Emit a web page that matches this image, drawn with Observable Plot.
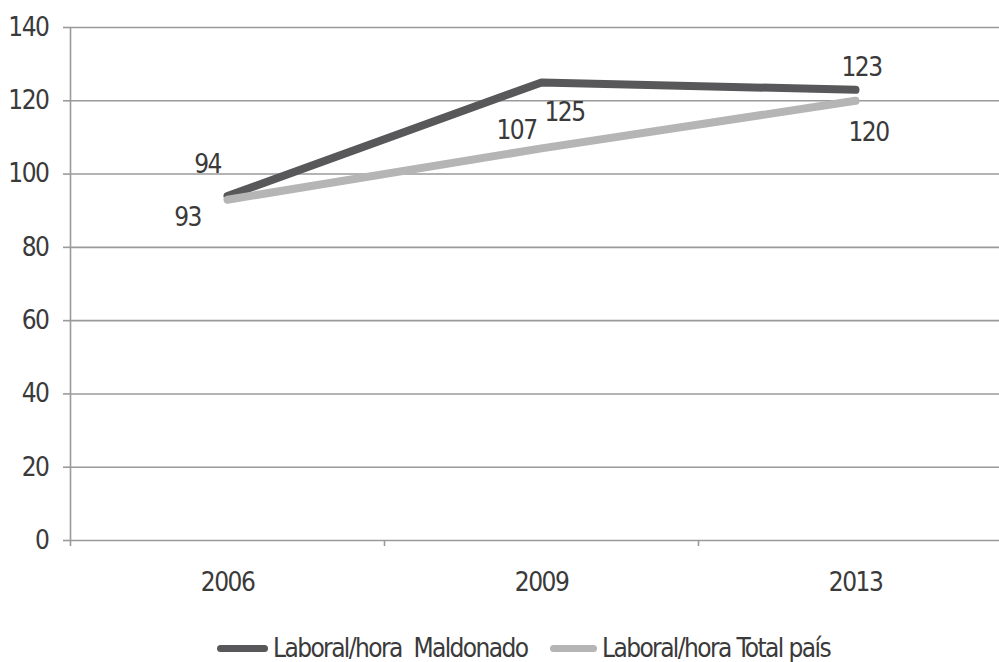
<!DOCTYPE html>
<html><head><meta charset="utf-8">
<script src="https://cdn.jsdelivr.net/npm/d3@7"></script>
<script src="https://cdn.jsdelivr.net/npm/@observablehq/plot@0.6"></script>
<style>
html,body{margin:0;padding:0;background:#fff;overflow:hidden;width:999px;height:662px}
#chart{position:relative;width:999px;height:662px;overflow:hidden}
#chart svg{display:block;max-width:none !important;width:1012px !important;height:610px !important}
#chart svg text{letter-spacing:-1.5px}
.legend{position:absolute;left:0;top:633px;width:999px;height:30px;
  font-family:"Liberation Sans Narrow","DejaVu Sans Condensed","DejaVu Sans",sans-serif;font-stretch:condensed;
  font-size:26px;color:#3a3a3a;white-space:pre;line-height:30px;letter-spacing:-1.6px}
.legend .sw{display:inline-block;height:7px;border-radius:4px;margin-right:5px}
.legend .item{position:absolute;top:0;display:flex;align-items:center;height:30px}
</style></head><body>
<div id="chart"></div>
<script>
const years = ["2006", "2009", "2013"];
const maldonado = [94, 125, 123];
const totalPais = [93, 107, 120];
const seriesNames = ["Laboral/hora  Maldonado", "Laboral/hora Total país"];
const seriesColors = ["#58585a", "#b5b5b5"];
const yTicks = [0, 20, 40, 60, 80, 100, 120, 140];

const FONT = '"Liberation Sans Narrow","DejaVu Sans Condensed","DejaVu Sans",sans-serif';
const TXT = "#3a3a3a";
const GRID = "#9a9a9a";

const idx = years.map((_, i) => i);
const xOf = i => i + 0.5;

const lineMark = (vals, color) => Plot.line(idx, {
  x: xOf, y: i => vals[i], stroke: color, strokeWidth: 8,
  strokeLinecap: "round", strokeLinejoin: "round"
});
const label = (vals, i, dx, dy) => Plot.text([i], {
  x: xOf, y: j => vals[j], text: j => String(vals[j]), dx, dy,
  fill: TXT, fontSize: 26, fontFamily: FONT
});

const chart = Plot.plot({
  width: 1012, height: 610,
  marginLeft: 70, marginRight: 0, marginTop: 27, marginBottom: 70,
  style: {fontFamily: FONT, fontSize: "26px", background: "#fff", fontStretch: "condensed"},
  x: {type: "linear", domain: [0, 3]},
  y: {domain: [0, 140]},
  marks: [
    Plot.gridY({ticks: yTicks, stroke: GRID, strokeOpacity: 1, strokeWidth: 1.6}),
    Plot.ruleX([0], {stroke: GRID, strokeWidth: 1.6}),
    Plot.axisY({ticks: yTicks, tickSize: 7, tickPadding: 15, stroke: GRID, strokeWidth: 1.6, fill: TXT, fontSize: 26}),
    Plot.axisX({ticks: [0, 1, 2], tickSize: 6, tickFormat: () => "", stroke: GRID, strokeWidth: 1.6}),
    Plot.axisX({ticks: idx.map(xOf), tickSize: 0, tickPadding: 32, tickFormat: d => years[Math.floor(d)], fill: TXT, fontSize: 26}),
    lineMark(maldonado, seriesColors[0]),
    lineMark(totalPais, seriesColors[1]),
    label(maldonado, 0, -20, -31),
    label(maldonado, 1, 23, 30),
    label(maldonado, 2, 6, -22),
    label(totalPais, 0, -40, 18),
    label(totalPais, 1, -25, -18),
    label(totalPais, 2, 13, 32)
  ]
});
const root = document.getElementById("chart");
root.appendChild(chart);

const legend = document.createElement("div");
legend.className = "legend";
const swW = [51, 47];
const itemLeft = [217, 550];
seriesNames.forEach((name, k) => {
  const item = document.createElement("span");
  item.className = "item";
  item.style.left = itemLeft[k] + "px";
  const sw = document.createElement("span");
  sw.className = "sw";
  sw.style.width = swW[k] + "px";
  sw.style.background = seriesColors[k];
  const t = document.createElement("span");
  t.textContent = name;
  item.appendChild(sw); item.appendChild(t);
  legend.appendChild(item);
});
root.appendChild(legend);
</script>
</body></html>
